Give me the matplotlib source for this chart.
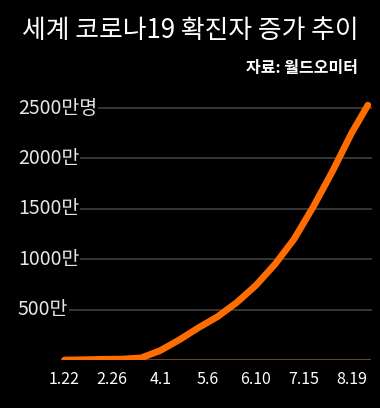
import numpy as np
import pandas as pd
import matplotlib.pyplot as plt

plt.rcParams['font.family'] = ['Noto Sans CJK KR', 'DejaVu Sans']

# cumulative confirmed cases, unit: 만 (10,000)
dates = ['2020-01-22', '2020-02-05', '2020-02-19', '2020-03-04', '2020-03-18',
         '2020-04-01', '2020-04-15', '2020-04-29', '2020-05-13', '2020-05-27',
         '2020-06-10', '2020-06-24', '2020-07-08', '2020-07-22', '2020-08-05',
         '2020-08-19', '2020-08-31']
cases = [0.06, 2.8, 7.5, 9.5, 21, 93, 200, 320, 430, 570,
         740, 950, 1200, 1520, 1870, 2250, 2530]

tick_dates = ['2020-01-22', '2020-02-26', '2020-04-01', '2020-05-06',
              '2020-06-10', '2020-07-15', '2020-08-19']
tick_labels = ['1.22', '2.26', '4.1', '5.6', '6.10', '7.15', '8.19']

y_ticks = [500, 1000, 1500, 2000, 2500]
y_labels = ['500만', '1000만', '1500만', '2000만', '2500만명']

start = pd.Timestamp(dates[0])
x = np.array([(pd.Timestamp(d) - start).days for d in dates])
xt = np.array([(pd.Timestamp(d) - start).days for d in tick_dates])

fig = plt.figure(figsize=(3.8, 4.08), dpi=100, facecolor='black')
ax = fig.add_axes([18/380, 48/408, 354/380, 265/408])
ax.set_facecolor('black')

# grid lines with labels sitting on them
for v, lab in zip(y_ticks, y_labels):
    ax.axhline(v, color='#404040', lw=1.2, zorder=1)
    ax.text(0, v, lab, transform=ax.get_yaxis_transform(), ha='left', va='center',
            color='#e6e6e6', fontsize=14,
            bbox=dict(facecolor='black', edgecolor='none', pad=0.5), zorder=2)

ax.axhline(0, xmin=50/354, xmax=352/354, color='#5e4c1f', lw=1.5, zorder=1)

ax.plot(x, cases, color='#ff6c00', lw=4.8, solid_capstyle='round',
        solid_joinstyle='round', zorder=3)

ax.set_xlim(-34, 225)
ax.set_ylim(0, 2630)
ax.set_xticks(xt)
ax.set_xticklabels(tick_labels, color='white', fontsize=11.5)
ax.tick_params(axis='x', length=0, pad=8)
ax.set_yticks([])
for s in ax.spines.values():
    s.set_visible(False)

fig.text(22/380, 1 - 31/408, '세계 코로나19 확진자 증가 추이', color='white',
         fontsize=18.6, fontweight='medium', ha='left', va='center')
fig.text(358/380, 1 - 68/408, '자료: 월드오미터', color='white',
         fontsize=11.5, fontweight='bold', ha='right', va='center')

fig.savefig('out.png', dpi=100, facecolor='black')
